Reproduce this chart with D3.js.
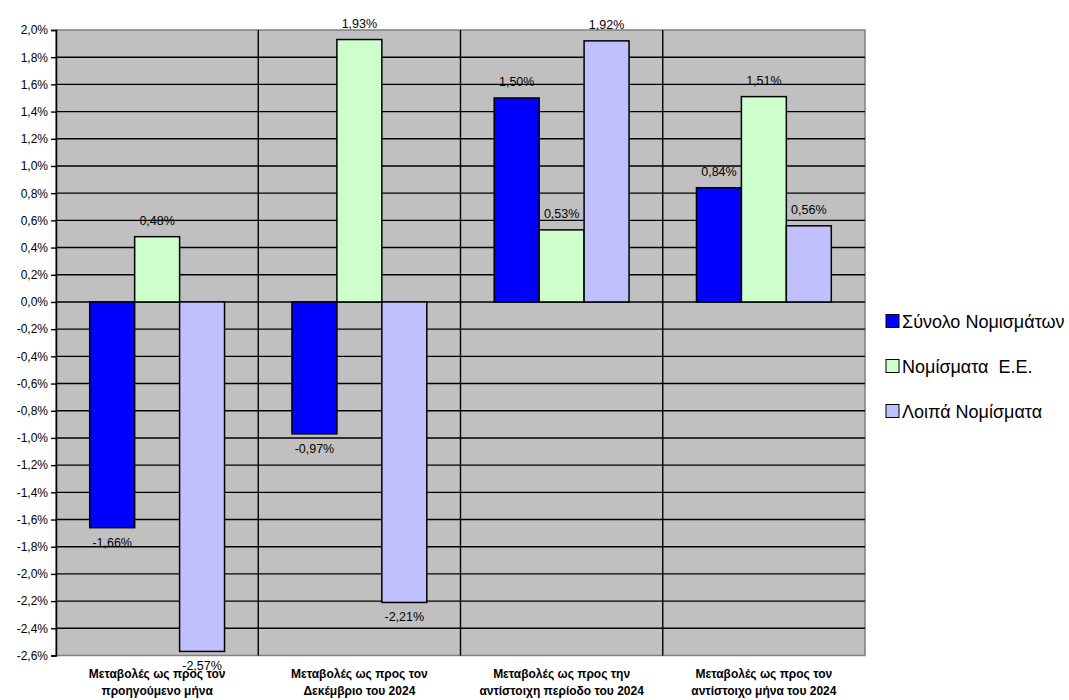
<!DOCTYPE html>
<html><head><meta charset="utf-8">
<script src="https://cdn.jsdelivr.net/npm/d3@7"></script>
<style>body{margin:0;background:#fff}text{font-family:"Liberation Sans",Arial,sans-serif}</style>
</head><body><svg id="c" width="1069" height="700"></svg>
<script>
const categories = [
  ["Μεταβολές ως προς τον","προηγούμενο μήνα"],
  ["Μεταβολές ως προς τον","Δεκέμβριο του 2024"],
  ["Μεταβολές ως προς την","αντίστοιχη περίοδο του 2024"],
  ["Μεταβολές ως προς τον","αντίστοιχο μήνα του 2024"]
];
const seriesNames = ["Σύνολο Νομισμάτων","Νομίσματα  Ε.Ε.","Λοιπά Νομίσματα"];
const seriesColors = ["#0000FF","#CCFFCC","#C0C0FF"];
const totalValues = [-1.66, -0.97, 1.50, 0.84];
const euValues = [0.48, 1.93, 0.53, 1.51];
const otherValues = [-2.57, -2.21, 1.92, 0.56];
const yTicks = [2.0,1.8,1.6,1.4,1.2,1.0,0.8,0.6,0.4,0.2,0.0,-0.2,-0.4,-0.6,-0.8,-1.0,-1.2,-1.4,-1.6,-1.8,-2.0,-2.2,-2.4,-2.6];
const series = [totalValues, euValues, otherValues];

const svg = d3.select("#c");
const L=56, R=865, T=30, B=655.5;
const y = d3.scaleLinear().domain([-2.6,2.0]).range([B,T]);
const x0 = d3.scaleBand().domain(d3.range(categories.length)).range([L,R]).paddingInner(0).paddingOuter(0);
const x1 = d3.scaleBand().domain(d3.range(series.length)).range([0,x0.bandwidth()]).paddingInner(0).paddingOuter(0.75);
const fmt = v => v.toFixed(2).replace(".",",")+"%";

svg.append("rect").attr("x",L).attr("y",T).attr("width",R-L).attr("height",B-T).attr("fill","#C0C0C0").attr("stroke","#808080").attr("stroke-width",1.5);
// gridlines
svg.append("g").selectAll("line").data(yTicks.slice(1,-1)).join("line")
  .attr("x1",L).attr("x2",R).attr("y1",d=>y(d)).attr("y2",d=>y(d))
  .attr("stroke","#000").attr("stroke-width",1.4);
// category dividers
svg.append("g").selectAll("line").data(d3.range(1,categories.length)).join("line")
  .attr("x1",d=>x0(d)).attr("x2",d=>x0(d)).attr("y1",T).attr("y2",B)
  .attr("stroke","#000").attr("stroke-width",1.4);
// y axis
const yAxis = d3.axisLeft(y).tickValues(yTicks).tickSize(5).tickFormat(d=>d.toFixed(1).replace(".",",")+"%");
const ga = svg.append("g").attr("transform",`translate(${L},0)`).call(yAxis);
ga.select(".domain").attr("stroke","#000").attr("stroke-width",1.5);
ga.selectAll(".tick line").attr("stroke","#000").attr("stroke-width",1.4);
ga.selectAll(".tick text").attr("font-size","12px").attr("fill","#000").attr("x",-8).attr("font-family","Liberation Sans, Arial, sans-serif");

// bars
const data = [];
series.forEach((s,si)=>s.forEach((v,ci)=>data.push({si,ci,v})));
svg.append("g").selectAll("rect").data(data).join("rect")
  .attr("x",d=>x0(d.ci)+x1(d.si)).attr("width",x1.bandwidth())
  .attr("y",d=>y(Math.max(0,d.v))).attr("height",d=>Math.abs(y(d.v)-y(0)))
  .attr("fill",d=>seriesColors[d.si]).attr("stroke","#000").attr("stroke-width",1.5);
// value labels
svg.append("g").selectAll("text").data(data).join("text")
  .attr("x",d=>x0(d.ci)+x1(d.si)+x1.bandwidth()/2)
  .attr("y",d=>d.v>=0? y(d.v)-12 : y(d.v)+19)
  .attr("text-anchor","middle").attr("font-size","12.5px").attr("fill","#000")
  .text(d=>fmt(d.v));
// category labels
const cg = svg.append("g");
categories.forEach((c,i)=>{
  c.forEach((line,j)=>{
    cg.append("text").attr("x",x0(i)+x0.bandwidth()/2).attr("y",678+j*17)
      .attr("text-anchor","middle").attr("font-size","12px").attr("font-weight","bold").text(line);
  });
});
// legend
const lg = svg.append("g");
seriesNames.forEach((n,i)=>{
  const yy = 321 + i*45;
  lg.append("rect").attr("x",886).attr("y",yy-6.5).attr("width",13).attr("height",13)
    .attr("fill",seriesColors[i]).attr("stroke","#000").attr("stroke-width",1);
  lg.append("text").attr("x",902).attr("y",yy+6.5).attr("font-size","18px").attr("fill","#000").style("white-space","pre").text(n);
});
</script></body></html>
